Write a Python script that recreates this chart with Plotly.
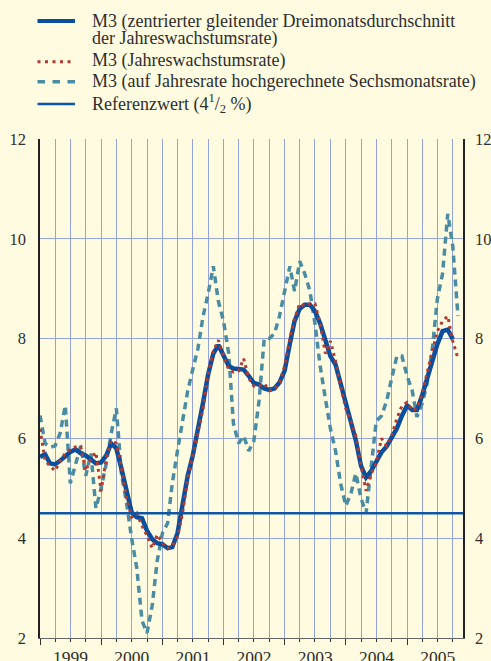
import pandas as pd
import plotly.graph_objects as go

# monthly observations, Jan 1999 onwards
months = pd.date_range("1999-01-01", periods=83, freq="MS")

# M3, centred three-month moving average of annual growth (Jan 1999 - Oct 2005)
m3_avg = [5.63, 5.68, 5.50, 5.48, 5.55, 5.65, 5.73, 5.78, 5.70, 5.66, 5.58, 5.50,
          5.52, 5.66, 5.90, 5.80, 5.40, 4.92, 4.52, 4.42, 4.40, 4.15, 3.98, 3.90,
          3.88, 3.80, 3.82, 4.10, 4.65, 5.25, 5.65, 6.15, 6.72, 7.28, 7.70, 7.87,
          7.68, 7.45, 7.40, 7.40, 7.38, 7.25, 7.11, 7.08, 7.00, 6.97, 7.00, 7.12,
          7.36, 7.90, 8.35, 8.60, 8.68, 8.68, 8.55, 8.30, 7.95, 7.65, 7.48, 7.10,
          6.65, 6.33, 5.96, 5.45, 5.22, 5.35, 5.52, 5.72, 5.84, 6.00, 6.20, 6.45,
          6.66, 6.57, 6.57, 6.86, 7.19, 7.53, 7.89, 8.15, 8.18, 7.99]

# M3, annual growth rate (Jan 1999 - Nov 2005)
m3_annual = [6.19, 5.55, 5.45, 5.35, 5.55, 5.70, 5.78, 5.83, 5.84, 5.35, 5.60, 5.72,
             4.95, 5.60, 5.96, 5.90, 5.43, 4.80, 4.42, 4.50, 4.25, 4.05, 3.80, 4.07,
             3.90, 3.79, 3.85, 4.03, 4.50, 5.20, 5.66, 6.10, 6.60, 7.30, 7.75, 7.97,
             7.65, 7.38, 7.33, 7.35, 7.60, 7.20, 7.05, 7.05, 7.10, 6.96, 6.98, 7.12,
             7.45, 8.00, 8.40, 8.70, 8.65, 8.70, 8.70, 8.30, 7.70, 7.95, 7.55, 7.05,
             6.60, 6.33, 6.05, 5.45, 4.95, 5.30, 5.50, 6.00, 5.85, 6.05, 6.40, 6.65,
             6.72, 6.56, 6.60, 6.90, 7.35, 7.75, 8.15, 8.35, 8.45, 7.95, 7.60]

# M3, annualised six-month growth rate (Jan 1999 - Nov 2005)
m3_six = [6.46, 5.90, 5.82, 5.85, 6.10, 6.66, 5.10, 5.50, 5.85, 5.25, 5.70, 4.60,
          5.00, 5.50, 6.10, 6.60, 5.30, 4.70, 4.00, 3.40, 2.35, 2.10, 2.65, 3.55,
          4.10, 4.30, 5.10, 5.75, 6.35, 6.95, 7.38, 7.80, 8.45, 8.90, 9.45, 8.75,
          8.35, 7.70, 6.30, 5.90, 6.05, 5.75, 5.95, 6.75, 8.00, 8.00, 8.10, 8.45,
          8.95, 9.45, 8.95, 9.55, 9.30, 8.95, 8.30, 7.45, 6.80, 6.20, 5.75, 5.10,
          4.65, 4.90, 5.30, 4.80, 4.50, 5.45, 6.35, 6.45, 6.75, 7.20, 7.65, 7.65,
          7.25, 6.95, 6.43, 6.70, 7.10, 7.80, 8.80, 9.30, 10.50, 9.85, 8.45]

ref_value = 4.5
x_start, x_end = "1999-01-01", "2005-12-01"

legend_lines = ["M3 (zentrierter gleitender Dreimonatsdurchschnitt",
                "der Jahreswachstumsrate)",
                "M3 (Jahreswachstumsrate)",
                "M3 (auf Jahresrate hochgerechnete Sechsmonatsrate)",
                "Referenzwert (4<sup>1</sup>/<sub>2</sub> %)"]

BG = "#fefbe0"
GRID = "#95a3db"
FONT = "Liberation Serif, Times New Roman, serif"
TXT = "#2e2e2e"
C_AVG, C_ANN, C_SIX, C_REF = "#0a4f9e", "#b23a30", "#4a8ca2", "#0d56a6"

# plot area in pixels (for placing the hand-made legend above it)
L, R, T, B = 40, 463, 139, 638


def px_x(x):
    return (x - L) / (R - L)


def px_y(y):
    return (B - y) / (B - T)


fig = go.Figure()
fig.add_trace(go.Scatter(x=months, y=m3_six, mode="lines", showlegend=False,
                         line=dict(color=C_SIX, width=3.5, dash="7px,5px")))
fig.add_trace(go.Scatter(x=months[:len(m3_avg)], y=m3_avg, mode="lines", showlegend=False,
                         line=dict(color=C_AVG, width=4.5)))
fig.add_trace(go.Scatter(x=months, y=m3_annual, mode="lines", showlegend=False,
                         line=dict(color=C_ANN, width=3, dash="3px,4px")))
fig.add_trace(go.Scatter(x=[x_start, x_end], y=[ref_value, ref_value], mode="lines",
                         showlegend=False, yaxis="y2",
                         line=dict(color=C_REF, width=2.5)))

# legend: text rows and key lines
text_y = [21.6, 38.6, 60.8, 81.6, 103.4]
for txt, ty in zip(legend_lines, text_y):
    fig.add_annotation(text=txt, xref="paper", yref="paper", x=px_x(90), y=px_y(ty),
                       xanchor="left", yanchor="middle", showarrow=False,
                       font=dict(family=FONT, size=18, color=TXT))

keys = [(21, C_AVG, 4, "solid"), (61.7, C_ANN, 3, "3px,4.5px"),
        (81.7, C_SIX, 3.5, "7.5px,7.5px"), (104, C_REF, 2.5, "solid")]
for ky, col, w, dash in keys:
    fig.add_shape(type="line", xref="paper", yref="paper",
                  x0=px_x(37.5), x1=px_x(75), y0=px_y(ky), y1=px_y(ky),
                  line=dict(color=col, width=w, dash=dash))

fig.update_layout(
    width=491, height=661,
    margin=dict(l=L, r=491 - R, t=T, b=661 - B, autoexpand=False),
    paper_bgcolor=BG, plot_bgcolor=BG,
    font=dict(family=FONT, size=17, color=TXT),
    showlegend=False,
    xaxis=dict(type="date", range=[x_start, x_end], tick0="1999-01-01", dtick="M12",
               tickformat="%Y", ticklabelmode="period",
               tickfont=dict(size=17.5),
               showgrid=True, gridcolor=GRID, gridwidth=1, zeroline=False,
               showline=True, linecolor="#666", linewidth=1,
               ticks="outside", ticklen=6, tickcolor="#333", ticklabelstandoff=-3,
               minor=dict(dtick="M3", showgrid=True, gridcolor=GRID, gridwidth=1,
                          ticks="outside", ticklen=3, tickcolor="#333")),
    yaxis=dict(range=[2, 12], dtick=2, showgrid=True, gridcolor=GRID, zeroline=False,
               showline=True, linecolor="#222", linewidth=1.5, ticks="",
               tickfont=dict(size=16.5), ticklabelstandoff=9),
    yaxis2=dict(range=[2, 12], dtick=2, overlaying="y", side="right", showgrid=False,
                zeroline=False, showline=True, linecolor="#222", linewidth=1.5,
                ticks="", tickfont=dict(size=16.5), ticklabelstandoff=7),
)

# drop the browser's default page margin so the figure sits at the window origin
fig.write_html("out.html", config={"displayModeBar": False},
               post_script="document.body.style.margin='0';"
                           "document.body.style.background='%s';" % BG)
